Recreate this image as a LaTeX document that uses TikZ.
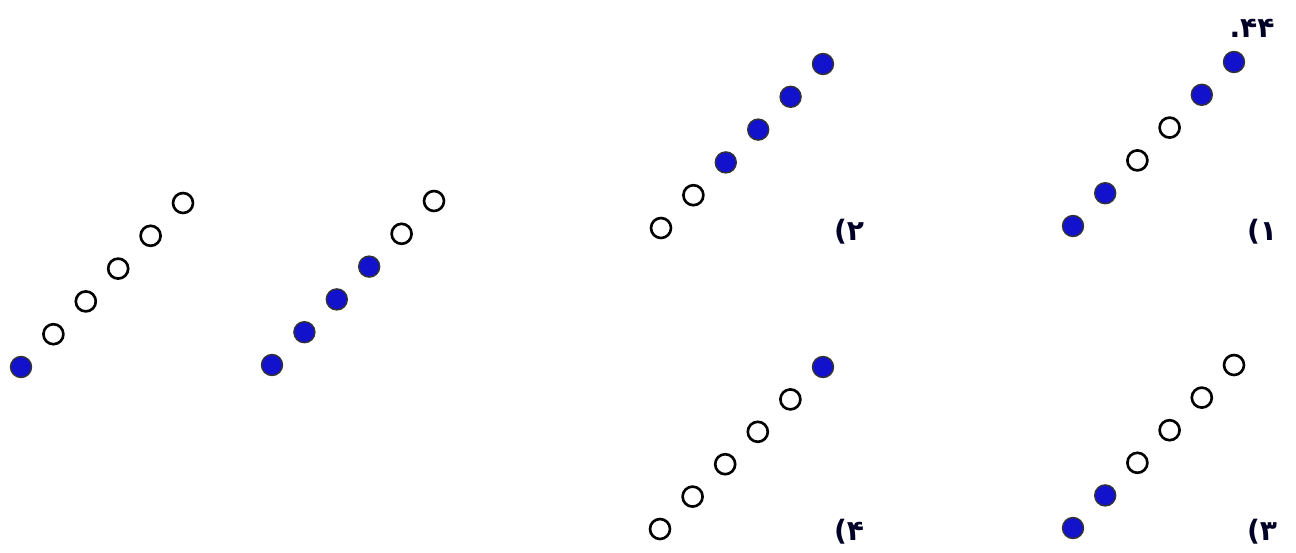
\documentclass[tikz,border=0pt]{standalone}
\usepackage{fontspec}
\newfontfamily\farsi[Script=Arabic]{DejaVu Sans}
\usepackage{xcolor}
\usepackage{tikz}
\definecolor{beadblue}{RGB}{18,18,205}
\tikzstyle{beadoff} = [
circle,
inner sep=0pt,
minimum size=0.40cm,
draw=black,
line width=1.5pt,
fill=white
]
\tikzstyle{beadon} = [
circle,
inner sep=0pt,
minimum size=0.42cm,
draw=black!80,
line width=0.8pt,
fill=beadblue
]
\tikzstyle{tag} = [
font=\farsi\bfseries\fontsize{16}{18}\selectfont,
text=black!85!blue,
inner sep=0pt
]

\begin{document}
\begin{tikzpicture}[x=0.02cm, y=-0.02cm]
			
			\useasboundingbox (0,0) rectangle (1296,552);
			
			% left pair, no label
			\foreach \s [count=\i from 0] in {on,off,off,off,off,off}
			\node (a\i) [bead\s] at (21+32.4*\i, 367-32.8*\i) {};
			
			\foreach \s [count=\i from 0] in {on,on,on,on,off,off}
			\node (b\i) [bead\s] at (272+32.4*\i, 365-32.8*\i) {};
			
			% choices
			\foreach \s [count=\i from 0] in {on,on,off,off,on,on}
			\node (p\i) [bead\s] at (1073+32.2*\i, 226-32.8*\i) {};
			
			\foreach \s [count=\i from 0] in {off,off,on,on,on,on}
			\node (q\i) [bead\s] at (661+32.4*\i, 228-32.8*\i) {};
			
			\foreach \s [count=\i from 0] in {on,on,off,off,off,off}
			\node (r\i) [bead\s] at (1073+32.2*\i, 528-32.6*\i) {};
			
			\foreach \s [count=\i from 0] in {off,off,off,off,off,on}
			\node (s\i) [bead\s] at (660+32.6*\i, 529-32.4*\i) {};
			
			\node (num) [tag] at (1252,28) {۴۴.};
			\node (c1) [tag] at (1262,232) {۱)};
			\node (c2) [tag] at (849,232) {۲)};
			\node (c3) [tag] at (1262,532) {۳)};
			\node (c4) [tag] at (849,532) {۴)};
			
		\end{tikzpicture}
\end{document}
